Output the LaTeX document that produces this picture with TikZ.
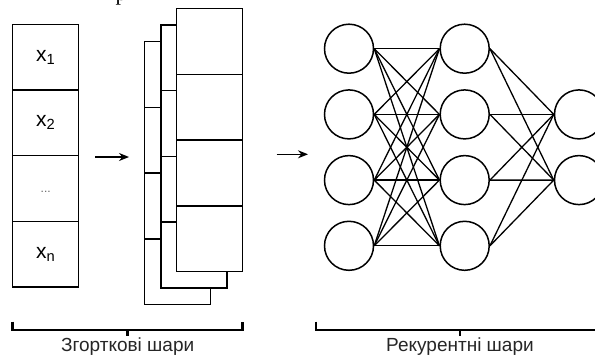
\documentclass[tikz,border=0pt]{standalone}
\usepackage{fontspec}
\setmainfont{Liberation Sans}
\newfontfamily\seriffont{Liberation Serif}
\usetikzlibrary{arrows.meta,calc}
\tikzset{
  cell/.style={draw, fill=white, line width=1.5pt, inner sep=0pt,
    minimum width=66pt, minimum height=65.7pt, font=\fontsize{21}{23}\selectfont},
  neuron/.style={draw, circle, fill=white, line width=1.5pt, inner sep=0pt, minimum size=49pt},
  link/.style={line width=1.3pt},
  flow/.style={line width=1.4pt, -{Stealth[length=10pt,width=8pt]}},
  brace/.style={line width=2.8pt},
  lbl/.style={font=\fontsize{19}{21}\selectfont, text=black!85}
}
\begin{document}
\begin{tikzpicture}[x=1pt,y=-1pt]
\useasboundingbox (0,0) rectangle (595,356);
% fragment of text above the picture
\node[anchor=base west, inner sep=0pt, font=\seriffont\fontsize{22}{24}\selectfont] (frag) at (115.5,0.6) {р};

% input column
\foreach \i/\t in {1/x\textsubscript{1},2/x\textsubscript{2},3/{},4/x\textsubscript{n}}{
  \node[cell] (c\i) at (45.7,{24.3+65.7*(\i-0.5)}) {\raisebox{-3pt}{\t}};
}
\node[font=\fontsize{12}{13}\selectfont, text=black!60] (dots) at ($(c3.center)+(0,3)$) {...};

% stacked convolution maps
\foreach \i in {1,...,4}{
  \node[cell] (b\i) at (177.3,{41.7+65.7*(\i-0.5)}) {};
}
\foreach \i in {1,...,4}{
  \node[cell] (m\i) at (193.8,{25+65.7*(\i-0.5)}) {};
}
\foreach \i in {1,...,4}{
  \node[cell] (f\i) at (209.7,{8.7+65.7*(\i-0.5)}) {};
}

% arrows
\coordinate (a1s) at (95,157);
\coordinate (a1e) at (129,157);
\draw[flow] (a1s) -- (a1e);
\coordinate (a2s) at (276.7,154.3);
\coordinate (a2e) at (308,154.3);
\draw[flow] (a2s) -- (a2e);

% network
\foreach \i in {1,...,4}{
  \node[neuron] (n1\i) at (349,{48.7+65.7*(\i-1)}) {};
  \node[neuron] (n2\i) at (464.7,{48.7+65.7*(\i-1)}) {};
}
\node[neuron] (n31) at (579,114.4) {};
\node[neuron] (n32) at (579,180.1) {};
\foreach \i in {1,...,4}{
  \foreach \j in {1,...,4}{
    \draw[link] (n1\i.east) -- (n2\j.west);
  }
  \foreach \j in {1,2}{
    \draw[link] (n2\i.east) -- (n3\j.west);
  }
}

% braces
\coordinate (lb1) at (12.7,321.5);
\coordinate (lb2) at (12.7,330);
\coordinate (lb3) at (242.3,330);
\coordinate (lb4) at (242.3,321.5);
\coordinate (lbm) at (127.7,330);
\coordinate (lbt) at (127.7,335.5);
\draw[brace] (lb1) -- (lb2) -- (lb3) -- (lb4);
\draw[brace] (lbm) -- (lbt);
\node[lbl] (conv) at (127.7,346.5) {Згорткові шари};

\coordinate (rb1) at (316,321.5);
\coordinate (rb2) at (316,330);
\coordinate (rb3) at (604,330);
\coordinate (rb4) at (604,321.5);
\coordinate (rbm) at (460,330);
\coordinate (rbt) at (460,335.5);
\draw[brace] (rb1) -- (rb2) -- (rb3) -- (rb4);
\draw[brace] (rbm) -- (rbt);
\node[lbl] (rec) at (460,346.5) {Рекурентні шари};
\end{tikzpicture}
\end{document}
